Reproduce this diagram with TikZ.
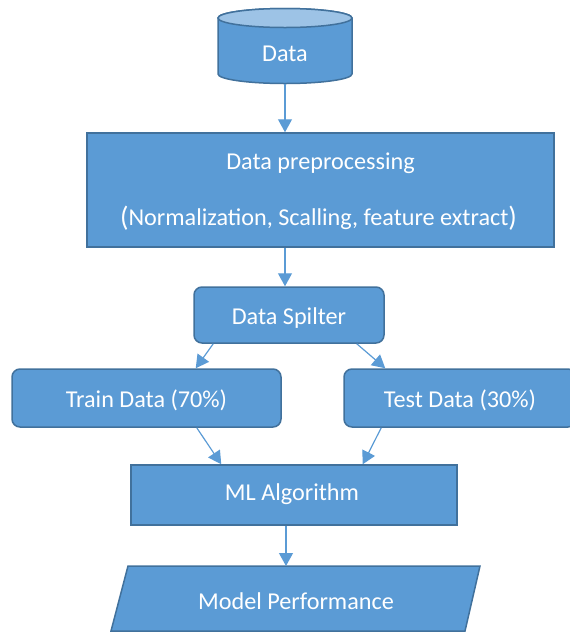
\documentclass[tikz,border=0pt]{standalone}
\usepackage{fontspec}
\setmainfont{Carlito}
\usetikzlibrary{arrows.meta,calc}
\definecolor{boxfill}{HTML}{5B9BD5}
\definecolor{boxline}{HTML}{41719C}
\definecolor{cyltop}{HTML}{9DC3E6}
\tikzset{
  box/.style={draw=boxline,fill=boxfill,line width=1.5pt,inner sep=0pt},
  rbox/.style={box,rounded corners=8pt},
  lbl/.style={text=white,font=\fontsize{24.2}{29}\selectfont,inner sep=0pt},
  arr/.style={draw=boxfill,line width=1.2pt,-{Triangle[length=13pt,width=14pt]}}
}
\begin{document}
\begin{tikzpicture}[x=1pt,y=-1pt]
\useasboundingbox (0,0) rectangle (570,633);
% cylinder
\filldraw[draw=boxline,fill=boxfill,line width=1.5pt]
  (218,18) -- (218,74) arc[start angle=180,end angle=0,x radius=67,y radius=9.5]
  -- (352,18) arc[start angle=0,end angle=-180,x radius=67,y radius=9.5] -- cycle;
\filldraw[draw=boxline,fill=cyltop,line width=1.5pt] (285,18) ellipse[x radius=67,y radius=9.5];
\node[lbl] (data) at (285,54) {Data};
\coordinate (datab) at (285,84);
% preprocessing
\node[box,minimum width=467pt,minimum height=114pt] (prep) at (320.5,190) {};
\node[lbl] (prept) at (320.5,163) {Data preprocessing};
\node[lbl] (prepsub) at (318.5,218) {\raisebox{-1pt}{\fontsize{28}{28}\selectfont(}Normalization, Scalling, feature extract\raisebox{-1pt}{\fontsize{28}{28}\selectfont)}};
% splitter
\node[rbox,minimum width=190pt,minimum height=56pt] (spl) at (289,315) {};
\node[lbl] (splt) at (289,318) {Data Spilter};
% train / test
\node[rbox,minimum width=269pt,minimum height=58pt] (train) at (146.5,398) {};
\node[lbl] (traint) at (146.5,400) {Train Data (70\%)};
\node[rbox,minimum width=232pt,minimum height=58pt] (test) at (460,398) {};
\node[lbl] (testt) at (460,400) {Test Data (30\%)};
% ML
\node[box,minimum width=326pt,minimum height=60pt] (ml) at (294,495) {};
\node[lbl] (mlt) at (292,494) {ML Algorithm};
% performance parallelogram
\filldraw[draw=boxline,fill=boxfill,line width=1.5pt]
  (128,566) -- (480,566) -- (465,631) -- (111,631) -- cycle;
\node[lbl] (perf) at (296,601) {Model Performance};
\coordinate (perftop) at (286,566);
% connectors
\draw[arr] (datab) -- (datab |- prep.north);
\draw[arr] (prep.south -| datab) -- (datab |- spl.north);
\draw[arr] ($(spl.south west)+(20,0)$) -- ($(train.north east)+(-86,0)$);
\draw[arr] ($(spl.south east)+(-28,0)$) -- ($(test.north west)+(42,0)$);
\draw[arr] ($(train.south east)+(-85,0)$) -- ($(ml.north west)+(91,0)$);
\draw[arr] ($(test.south west)+(38,0)$) -- ($(ml.north east)+(-95,0)$);
\draw[arr] (ml.south -| perftop) -- (perftop);
\end{tikzpicture}
\end{document}
